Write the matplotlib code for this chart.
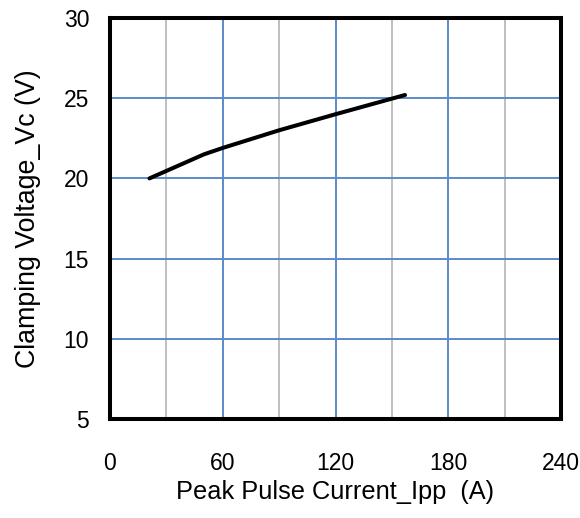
import matplotlib.pyplot as plt
from matplotlib.ticker import MultipleLocator

plt.rcParams['font.family'] = ['Liberation Sans', 'DejaVu Sans']

# Vc vs Ipp curve
ipp = [21, 50, 60, 90, 120, 157]
vc = [20.0, 21.5, 21.9, 23.0, 24.0, 25.2]

x_ticks = [0, 60, 120, 180, 240]
y_ticks = [5, 10, 15, 20, 25, 30]

fig = plt.figure(figsize=(5.8, 5.18), dpi=100)
ax = fig.add_axes([110 / 580, 1 - 419 / 518, 451 / 580, 401 / 518])

ax.set_xlim(0, 240)
ax.set_ylim(5, 30)
ax.set_xticks(x_ticks)
ax.set_yticks(y_ticks)
ax.xaxis.set_minor_locator(MultipleLocator(30))

ax.grid(True, which='minor', axis='x', color='#BFBFBF', lw=1.4)
ax.grid(True, which='major', color='#5B8BC9', lw=1.4)
ax.set_axisbelow(True)

ax.plot(ipp, vc, color='black', lw=2.9, solid_capstyle='round')

for s in ax.spines.values():
    s.set_linewidth(2.9)
    s.set_color('black')

ax.tick_params(which='both', length=0)
ax.tick_params(axis='x', labelsize=16.5, pad=24)
ax.tick_params(axis='y', labelsize=16.5, pad=15)

ax.set_xlabel('Peak Pulse Current_Ipp  (A)', fontsize=18.3, labelpad=3)
ax.set_ylabel('Clamping Voltage_Vc (V)', fontsize=19.3, labelpad=16)

fig.savefig('out.png', dpi=100)
